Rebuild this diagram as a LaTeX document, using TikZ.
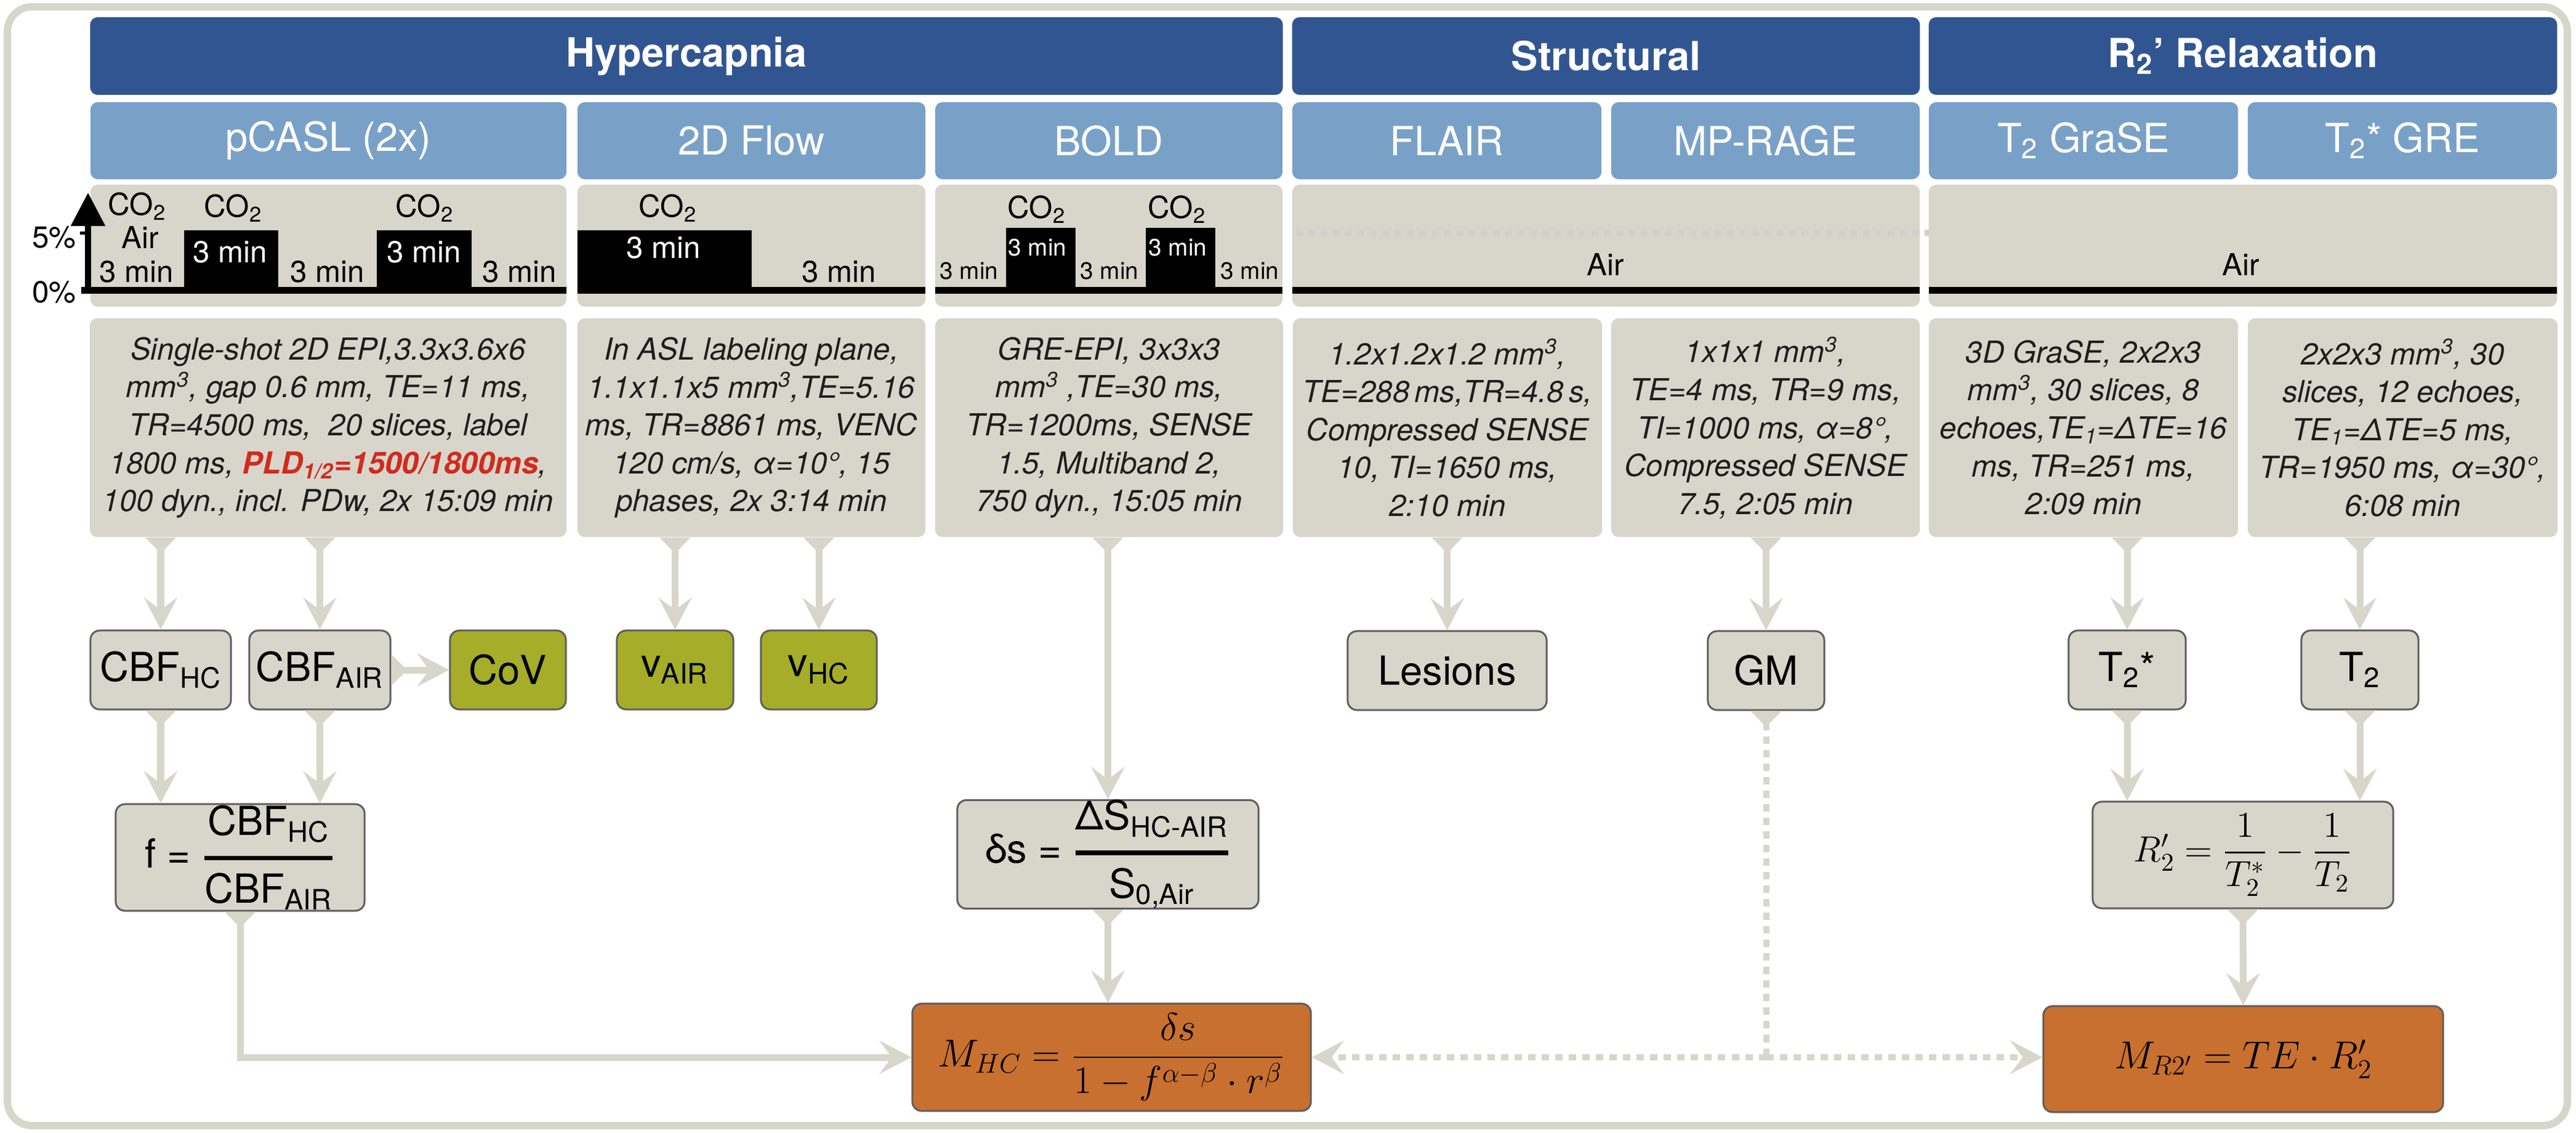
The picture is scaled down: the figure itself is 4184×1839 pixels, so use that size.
\RequirePackage{fix-cm}
\documentclass[tikz,border=0pt]{standalone}
\usepackage{amsmath}
\usepackage[no-math]{fontspec}
\setmainfont{TeX Gyre Heros}
\usepackage{xcolor}
\usepackage{tikz}
\usetikzlibrary{arrows,arrows.meta,shapes,calc}
\definecolor{bandblue}{RGB}{49,85,145}
\definecolor{subblue}{RGB}{121,161,200}
\definecolor{boxgray}{RGB}{216,214,203}
\definecolor{resultgreen}{RGB}{166,173,41}
\definecolor{modelorange}{RGB}{200,112,47}
\definecolor{pldred}{RGB}{209,43,31}
\definecolor{edgegray}{RGB}{94,94,94}
\definecolor{txtgray}{RGB}{30,30,30}
\definecolor{faintgray}{RGB}{208,208,209}
\tikzstyle{band}=[rectangle, rounded corners=1.2mm, fill=bandblue, text=white,% dark header row
font=\fontsize{18.5}{22}\selectfont\bfseries, minimum height=12.6mm, inner sep=0pt]
\tikzstyle{sub}=[rectangle, rounded corners=1.2mm, fill=subblue, text=white,
font=\fontsize{18.5}{22}\selectfont, minimum height=12.5mm, inner sep=0pt]
\tikzstyle{paradigm}=[rectangle, rounded corners=1.2mm, fill=boxgray, minimum height=19.8mm, inner sep=0pt]
\tikzstyle{info}=[rectangle, rounded corners=1.2mm, fill=boxgray, text=txtgray, align=center,
font=\fontsize{14}{17.5}\selectfont\itshape, minimum height=35.5mm, inner sep=0pt]
\tikzstyle{res}=[rectangle, rounded corners=1.5mm, draw=edgegray, line width=0.3mm, fill=boxgray,
font=\fontsize{18.5}{22}\selectfont, minimum height=12.8mm, inner sep=0pt]
\tikzstyle{outcome}=[res, fill=resultgreen]
\tikzstyle{eq}=[res, minimum height=17.4mm]
\tikzstyle{model}=[res, fill=modelorange, font=\fontsize{18}{22}\selectfont, minimum height=17.3mm]
\tikzstyle{lbl}=[inner sep=0pt, font=\fontsize{14}{16}\selectfont]
\tikzstyle{lblsmall}=[inner sep=0pt, font=\fontsize{11}{13}\selectfont]
\tikzstyle{feed}=[draw=boxgray, line width=1.1mm,
{Triangle[reversed,length=2.6mm,width=4.9mm]}-{Stealth[length=5.2mm,width=5.4mm,inset=2mm]}]
\tikzstyle{dotline}=[draw=boxgray, line width=1mm, dash pattern=on 1.2mm off 1mm]
\tikzstyle{faint}=[draw=faintgray, line width=1mm, dash pattern=on 1.1mm off 0.9mm]
\begin{document}
\begin{tikzpicture}[x=0.01cm,y=-0.01cm]
\useasboundingbox (0,0) rectangle (4184,1839);
\draw[boxgray,line width=1.2mm,rounded corners=4mm] (12,11) rectangle (4170,1828);
% header rows
\node[band,minimum width=193.6mm] (hyper) at (1115,91) {Hypercapnia};
\node[band,minimum width=101.9mm] (struct) at (2608.5,91) {Structural};
\node[band,minimum width=102mm] (relax) at (3643,91) {R\textsubscript{2}’ Relaxation};
\node[sub,minimum width=77.3mm] (pcasl) at (533.5,228.5) {pCASL (2x)};
\node[sub,minimum width=56.5mm] (flow) at (1220.5,228.5) {2D Flow};
\node[sub,minimum width=56.4mm] (bold) at (1801,228.5) {BOLD};
\node[sub,minimum width=50.2mm] (flair) at (2350,228.5) {FLAIR};
\node[sub,minimum width=50.1mm] (mprage) at (2867.5,228.5) {MP-RAGE};
\node[sub,minimum width=50.2mm] (grase) at (3384,228.5) {T\textsubscript{2} GraSE};
\node[sub,minimum width=50.2mm] (gre) at (3902,228.5) {T\textsubscript{2}* GRE};
% gas paradigms
\node[paradigm,minimum width=77.3mm] (pcaslpar) at (533.5,399) {};
\node[paradigm,minimum width=56.5mm] (flowpar) at (1220.5,399) {};
\node[paradigm,minimum width=56.4mm] (boldpar) at (1801,399) {};
\node[paradigm,minimum width=101.9mm] (structpar) at (2608.5,399) {};
\node[paradigm,minimum width=102mm] (relaxpar) at (3643,399) {};
\fill (132,466) rectangle (920,477);
\fill (299,374) rectangle (452,467);
\fill (612,374) rectangle (766,467);
\draw[line width=0.9mm,-{Triangle[length=5.4mm,width=5.4mm]}] (143,477) -- (143,313);
\draw[line width=0.5mm] (130,378) -- (143,378);
\node[lbl,anchor=east] (five) at (124,386) {5\%};
\node[lbl,anchor=east] (zero) at (124,475) {0\%};
\node[lbl] (pco) at (223,335) {CO\textsubscript{2}};
\node[lbl] (pair) at (228,386) {Air};
\node[lbl] (pa1) at (222,441) {3 min};
\node[lbl] (pco1) at (379,338) {CO\textsubscript{2}};
\node[lbl,text=white] (ph1) at (374,409) {3 min};
\node[lbl] (pa2) at (532,441) {3 min};
\node[lbl] (pco2) at (690,338) {CO\textsubscript{2}};
\node[lbl,text=white] (ph2) at (689,409) {3 min};
\node[lbl] (pa3) at (844,441) {3 min};
\fill (938,466) rectangle (1503,477);
\fill (938,374) rectangle (1221,467);
\node[lbl] (fco) at (1085,338) {CO\textsubscript{2}};
\node[lbl,text=white] (fh) at (1078,402) {3 min};
\node[lbl] (fa) at (1363,441) {3 min};
\fill (1519,466) rectangle (2083,477);
\fill (1634,370) rectangle (1747,467);
\fill (1861,370) rectangle (1974,467);
\node[lblsmall] (ba1) at (1574,440) {3 min};
\node[lbl] (bco1) at (1684,340) {CO\textsubscript{2}};
\node[lblsmall,text=white] (bh1) at (1685,402) {3 min};
\node[lblsmall] (ba2) at (1802,440) {3 min};
\node[lbl] (bco2) at (1912,340) {CO\textsubscript{2}};
\node[lblsmall,text=white] (bh2) at (1913,402) {3 min};
\node[lblsmall] (ba3) at (2030,440) {3 min};
\fill (2099,466) rectangle (3118,477);
\draw[faint] (2105,378) -- (3133,378);
\node[lbl] (sair) at (2608,430) {Air};
\fill (3133,466) rectangle (4153,477);
\node[lbl] (rair) at (3640,430) {Air};
% sequence parameters
\node[info,minimum width=77.4mm] (pcasltxt) at (533,694.5) {Single-shot 2D EPI,3.3x3.6x6\\mm\textsuperscript{3}, gap 0.6 mm, TE=11 ms,\\TR=4500 ms,\ \ 20 slices, label\\1800 ms, {\bfseries\color{pldred}PLD\textsubscript{1/2}=1500/1800ms},\\100 dyn., incl. PDw, 2x 15:09 min};
\node[info,minimum width=56.5mm] (flowtxt) at (1220.5,694.5) {In ASL labeling plane,\\1.1x1.1x5 mm\textsuperscript{3},TE=5.16\\ms, TR=8861 ms, VENC\\120 cm/s, α=10°, 15\\phases, 2x 3:14 min};
\node[info,minimum width=56.5mm] (boldtxt) at (1801.5,694.5) {GRE-EPI, 3x3x3\\mm\textsuperscript{3} ,TE=30 ms,\\TR=1200ms, SENSE\\1.5, Multiband 2,\\750 dyn., 15:05 min};
\node[info,minimum width=50.2mm] (flairtxt) at (2351,694.5) {1.2x1.2x1.2 mm\textsuperscript{3},\\TE=288\,ms,TR=4.8\,s,\\Compressed SENSE\\10, TI=1650 ms,\\2:10 min};
\node[info,minimum width=50.1mm] (mpragetxt) at (2867.5,694.5) {1x1x1 mm\textsuperscript{3},\\TE=4 ms, TR=9 ms,\\TI=1000 ms, α=8°,\\Compressed SENSE\\7.5, 2:05 min};
\node[info,minimum width=50.2mm] (grasetxt) at (3384,694.5) {3D GraSE, 2x2x3\\mm\textsuperscript{3}, 30 slices, 8\\echoes,TE\textsubscript{1}=ΔTE=16\\ms, TR=251 ms,\\2:09 min};
\node[info,minimum width=50.3mm] (gretxt) at (3902.5,694.5) {2x2x3 mm\textsuperscript{3}, 30\\slices, 12 echoes,\\TE\textsubscript{1}=ΔTE=5 ms,\\TR=1950 ms, α=30°,\\6:08 min};
% derived maps
\node[res,minimum width=22.8mm] (cbfhc) at (261,1088) {CBF\textsubscript{HC}};
\node[res,minimum width=22.9mm] (cbfair) at (519.5,1088) {CBF\textsubscript{AIR}};
\node[outcome,minimum width=18.8mm] (cov) at (825,1088) {CoV};
\node[outcome,minimum width=18.9mm] (vair) at (1096.5,1088) {v\textsubscript{AIR}};
\node[outcome,minimum width=18.8mm] (vhc) at (1330,1088) {v\textsubscript{HC}};
\node[res,minimum width=32.3mm] (lesions) at (2350.5,1089) {Lesions};
\node[res,minimum width=18.9mm] (gm) at (2868.5,1089) {GM};
\node[res,minimum width=19mm] (t2s) at (3455,1088) {T\textsubscript{2}*};
\node[res,minimum width=19mm] (t2) at (3833,1088) {T\textsubscript{2}};
\node[eq,minimum width=40.4mm,minimum height=17.3mm] (fbox) at (390,1392.5) {f = $\genfrac{}{}{2pt}{0}{\text{CBF\textsubscript{HC}}}{\text{CBF\textsubscript{AIR}}}$};
\node[eq,minimum width=48.9mm,minimum height=17.5mm] (dsbox) at (1799.5,1387.5) {δs = $\genfrac{}{}{2pt}{0}{\text{ΔS\textsubscript{HC-AIR}}}{\text{S\textsubscript{0,Air}}}$};
\node[eq,minimum width=48.8mm,minimum height=17.3mm,font=\fontsize{16.8}{20}\selectfont] (r2box) at (3643,1388.5) {$R'_2=\dfrac{1}{T^*_2}-\dfrac{1}{T_2}$};
\node[model,minimum width=64.7mm,minimum height=17.4mm] (mhc) at (1805.5,1717) {$M_{HC}=\dfrac{\delta s}{1-f^{\alpha-\beta}\cdot r^{\beta}}$};
\node[model,minimum width=64.9mm,minimum height=17.2mm] (mr2) at (3643.5,1720) {$M_{R2'}=TE\cdot R'_2$};
\coordinate (gmjoin) at (gm.south |- mhc.east);
\draw[feed] (pcasltxt.south -| cbfhc.north) -- (cbfhc.north);
\draw[feed] (pcasltxt.south -| cbfair.north) -- (cbfair.north);
\draw[feed] (cbfair.east) -- (cov.west);
\draw[feed] (flowtxt.south -| vair.north) -- (vair.north);
\draw[feed] (flowtxt.south -| vhc.north) -- (vhc.north);
\draw[feed] (cbfhc.south) -- (cbfhc.south |- fbox.north);
\draw[feed] (cbfair.south) -- (cbfair.south |- fbox.north);
\draw[feed] (boldtxt.south -| dsbox.north) -- (dsbox.north);
\draw[feed] (dsbox.south) -- (dsbox.south |- mhc.north);
\draw[feed] (fbox.south) |- (mhc.west);
\draw[feed] (flairtxt.south -| lesions.north) -- (lesions.north);
\draw[feed] (mpragetxt.south -| gm.north) -- (gm.north);
\draw[feed] (grasetxt.south -| t2s.north) -- (t2s.north);
\draw[feed] (gretxt.south -| t2.north) -- (t2.north);
\draw[feed] (t2s.south) -- (t2s.south |- r2box.north);
\draw[feed] (t2.south) -- (t2.south |- r2box.north);
\draw[feed] (r2box.south) -- (mr2.north);
\draw[dotline,{Triangle[reversed,length=2.6mm,width=4.9mm]}-] (gm.south) -- (gmjoin);
\draw[dotline,-{Stealth[length=5.2mm,width=5.4mm,inset=2mm]}] (gmjoin) -- (mhc.east);
\draw[dotline,-{Stealth[length=5.2mm,width=5.4mm,inset=2mm]}] (gmjoin) -- (gmjoin -| mr2.west);
\end{tikzpicture}
\end{document}
